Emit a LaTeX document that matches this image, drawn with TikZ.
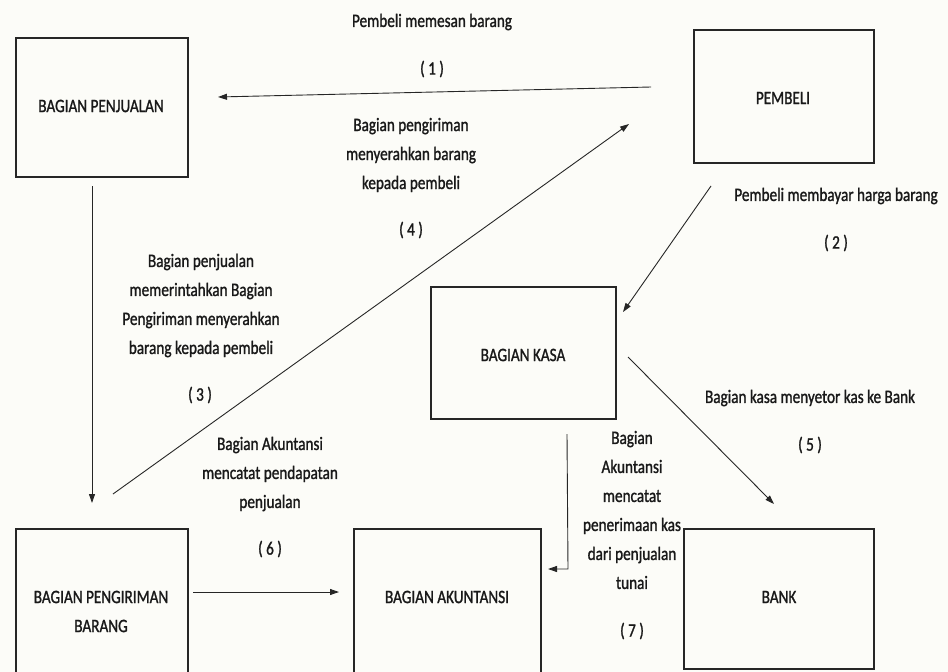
\documentclass[tikz,border=0pt]{standalone}
\usepackage{fontspec}
\setmainfont{Carlito}[FakeStretch=0.8,FakeBold=1.2]
\usetikzlibrary{arrows.meta}
\begin{document}
\begin{tikzpicture}[x=1pt,y=-1pt,
  box/.style={draw=black!85,line width=1.1pt},
  lbl/.style={align=center,font=\fontsize{19}{29}\selectfont,text=black!90,inner sep=0pt},
  flow/.style={draw=black!85,line width=0.9pt,-{Triangle[length=9pt,width=6pt]}}]
\useasboundingbox[fill={rgb,255:red,252;green,252;blue,248}] (0,0) rectangle (948,672);
% boxes
\draw[box] (16,38) rectangle (188,177);
\node (penj) at (102,107.5) {};
\draw[box] (694,30) rectangle (874,163);
\node (pemb) at (784,96.5) {};
\draw[box] (431,287) rectangle (616,419);
\node (kasa) at (523.5,353) {};
\draw[box] (16,529) rectangle (188,700);
\node (kirim) at (102,600) {};
\draw[box] (354,529) rectangle (541,700);
\node (akun) at (447,600) {};
\draw[box] (684,529) rectangle (874,669);
\node (bank) at (779,599) {};
% box texts
\node[lbl] (tpenj) at (101,106) {BAGIAN PENJUALAN};
\node[lbl] (tpemb) at (783,98) {PEMBELI};
\node[lbl] (tkasa) at (523,355) {BAGIAN KASA};
\node[lbl] (tkirim) at (101,611.5) {BAGIAN PENGIRIMAN\\BARANG};
\node[lbl] (takun) at (447,597) {BAGIAN AKUNTANSI};
\node[lbl] (tbank) at (779,597) {BANK};
% connector end points
\coordinate (a1s) at (651,87);   \coordinate (a1e) at (218,97);
\coordinate (a2s) at (711,186);  \coordinate (a2e) at (623,312);
\coordinate (a3s) at (92,186);   \coordinate (a3e) at (92,503);
\coordinate (a4s) at (113,494);  \coordinate (a4e) at (629,124);
\coordinate (a5s) at (628,357);  \coordinate (a5e) at (774,504);
\coordinate (a6s) at (193,592);  \coordinate (a6e) at (339,592);
\coordinate (a7s) at (567,434);  \coordinate (a7c) at (568,569);
\coordinate (a7e) at (548,569);
% connectors
\draw[flow] (a1s) -- (a1e);
\draw[flow] (a2s) -- (a2e);
\draw[flow] (a3s) -- (a3e);
\draw[flow] (a4s) -- (a4e);
\draw[flow] (a5s) -- (a5e);
\draw[flow] (a6s) -- (a6e);
\draw[flow] (a7s) -- (a7c) -- (a7e);
% labels
\node[lbl] (l1) at (432,22) {Pembeli memesan barang};
\node[lbl] (n1) at (432,69) {( 1 )};
\node[lbl] (l4) at (411,155) {Bagian pengiriman\\menyerahkan barang\\kepada pembeli};
\node[lbl] (n4) at (411,230) {( 4 )};
\node[lbl] (l3) at (201,305.5) {Bagian penjualan\\memerintahkan Bagian\\Pengiriman menyerahkan\\barang kepada pembeli};
\node[lbl] (n3) at (200,395) {( 3 )};
\node[lbl] (l6) at (270,474) {Bagian Akuntansi\\mencatat pendapatan\\penjualan};
\node[lbl] (n6) at (270,549) {( 6 )};
\node[lbl] (l2) at (836,196) {Pembeli membayar harga barang};
\node[lbl] (n2) at (836,243) {( 2 )};
\node[lbl] (l5) at (810,398) {Bagian kasa menyetor kas ke Bank};
\node[lbl] (n5) at (810,445) {( 5 )};
\node[lbl] (l7) at (632,510) {Bagian\\Akuntansi\\mencatat\\penerimaan kas\\dari penjualan\\tunai};
\node[lbl] (n7) at (632,631) {( 7 )};
\end{tikzpicture}
\end{document}
